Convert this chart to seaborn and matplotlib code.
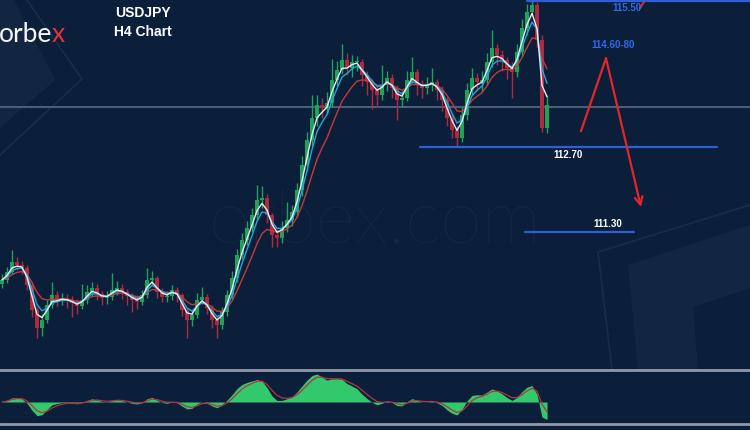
import numpy as np
import pandas as pd
import matplotlib
matplotlib.use("Agg")
import matplotlib.pyplot as plt
import seaborn as sns
from matplotlib.patches import Polygon

# ---------------- data (USDJPY H4) ----------------
first_open = 110.45
close = [110.51, 110.64, 110.80, 110.76, 110.71, 110.43, 110.01, 109.72, 109.85, 110.10,
         110.26, 110.18, 110.21, 110.18, 110.13, 110.08, 110.18, 110.31, 110.38, 110.28,
         110.21, 110.23, 110.34, 110.38, 110.31, 110.24, 110.18, 110.15, 110.26, 110.51,
         110.54, 110.31, 110.23, 110.24, 110.34, 110.26, 110.01, 109.85, 109.93, 110.18,
         110.23, 110.05, 109.85, 109.77, 109.98, 110.26, 110.54, 110.92, 111.17, 111.36,
         111.58, 111.83, 111.86, 111.58, 111.25, 111.20, 111.36, 111.50, 111.63, 111.99,
         112.40, 112.81, 113.18, 113.39, 113.34, 113.42, 113.80, 113.97, 114.13, 114.00,
         114.10, 114.10, 113.88, 113.77, 113.64, 113.56, 113.72, 113.84, 113.67, 113.47,
         113.51, 113.80, 113.93, 113.72, 113.67, 113.72, 113.77, 113.64, 113.47, 113.18,
         112.98, 112.85, 113.23, 113.64, 113.84, 113.77, 113.80, 114.10, 114.33, 114.21,
         114.13, 114.00, 113.93, 114.26, 114.66, 114.92, 115.04, 114.46, 113.01, 113.39]
high = [110.60, 110.72, 111.00, 110.88, 110.82, 110.75, 110.48, 110.06, 109.95, 110.18,
        110.48, 110.32, 110.30, 110.28, 110.25, 110.20, 110.45, 110.42, 110.48, 110.44,
        110.33, 110.32, 110.62, 110.50, 110.45, 110.36, 110.30, 110.26, 110.35, 110.70,
        110.66, 110.58, 110.38, 110.33, 110.42, 110.40, 110.30, 110.05, 110.02, 110.30,
        110.40, 110.28, 110.10, 109.92, 110.06, 110.35, 110.65, 111.02, 111.28, 111.48,
        111.70, 112.08, 112.05, 111.92, 111.62, 111.35, 111.48, 111.80, 111.75, 112.10,
        112.55, 112.95, 113.55, 113.55, 113.50, 113.60, 114.15, 114.12, 114.40, 114.25,
        114.22, 114.20, 114.15, 113.95, 113.82, 113.70, 114.05, 113.95, 113.90, 113.72,
        113.62, 113.95, 114.18, 113.98, 113.80, 113.85, 114.00, 113.82, 113.70, 113.52,
        113.25, 113.05, 113.35, 113.75, 114.00, 113.92, 113.95, 114.25, 114.62, 114.40,
        114.30, 114.18, 114.10, 114.40, 114.80, 115.05, 115.12, 115.08, 114.55, 113.55]
low = [110.38, 110.46, 110.60, 110.68, 110.60, 110.35, 109.90, 109.55, 109.58, 109.80,
       110.05, 110.08, 110.10, 110.05, 109.90, 109.95, 110.03, 110.12, 110.25, 110.18,
       110.10, 110.12, 110.18, 110.27, 110.20, 110.10, 109.98, 110.03, 110.10, 110.22,
       110.42, 110.22, 110.15, 110.14, 110.18, 110.15, 109.92, 109.55, 109.75, 109.88,
       110.12, 109.95, 109.72, 109.55, 109.70, 109.92, 110.20, 110.48, 110.85, 111.08,
       111.30, 111.52, 111.70, 111.45, 111.05, 111.05, 111.12, 111.30, 111.40, 111.55,
       111.90, 112.30, 112.70, 113.05, 113.18, 113.25, 113.35, 113.70, 113.90, 113.88,
       113.85, 113.95, 113.70, 113.55, 113.33, 113.35, 113.48, 113.62, 113.50, 113.15,
       113.35, 113.45, 113.75, 113.55, 113.50, 113.58, 113.62, 113.48, 113.30, 113.05,
       112.85, 112.70, 112.78, 113.15, 113.55, 113.62, 113.60, 113.72, 114.02, 114.05,
       113.95, 113.82, 113.50, 113.85, 114.18, 114.55, 114.85, 114.35, 112.95, 112.93]

hline_price = 113.36
level_prices = [115.10, 112.70, 111.30]
level_spans = [(105.0, 149.6), (83.6, 143.0), (104.6, 126.4)]
level_labels = ["115.50", "112.70", "111.30"]
target_label = "114.60-80"
arrow_t = [115.8, 120.8, 127.8]
arrow_p = [112.96, 114.16, 111.71]

# ---------------- derived series ----------------
df = pd.DataFrame({"t": np.arange(len(close)), "close": close, "high": high, "low": low})
df["open"] = df["close"].shift(1).fillna(first_open)
df["ma_fast"] = df["close"].ewm(span=2.5, adjust=False).mean()
df["ma_mid"] = df["close"].ewm(span=4, adjust=False).mean()
df["ma_slow"] = df["close"].ewm(span=8, adjust=False).mean()
macd = df["close"].ewm(span=3, adjust=False).mean() - df["close"].ewm(span=8, adjust=False).mean()
df["macd"] = macd
df["signal"] = macd.ewm(span=3, adjust=False).mean()

BG = "#0b1f3b"
sns.set_theme(style="dark")
plt.rcParams["font.family"] = ["Liberation Sans", "DejaVu Sans"]

fig = plt.figure(figsize=(7.5, 4.3), dpi=100)
fig.patch.set_facecolor(BG)

# background / decoration axes in pixel coordinates
bg = fig.add_axes([0, 0, 1, 1])
bg.set_xlim(0, 750)
bg.set_ylim(430, 0)
bg.axis("off")
bg.set_facecolor(BG)
bg.add_patch(Polygon([(0, 0), (14, 0), (55, 80), (0, 128)], closed=True,
                     facecolor="white", alpha=0.03, edgecolor="none"))
bg.plot([27, 82, 0], [0, 79, 155], color="white", alpha=0.07, lw=1)
bg.plot([750, 598, 612], [205, 252, 370], color="white", alpha=0.06, lw=1.2)
bg.add_patch(Polygon([(750, 225), (628, 265), (638, 370), (698, 370), (693, 307), (750, 288)],
                     closed=True, facecolor="white", alpha=0.035, edgecolor="none"))
bg.text(375, 222, "orbex.com", ha="center", va="center", fontsize=54, color="white",
        alpha=0.05, family=["Lato", "DejaVu Sans"], fontweight="light")
bg.text(52, 42, "orbe", ha="right", va="baseline", fontsize=19, color="#f4f6fa",
        family=["Lato", "DejaVu Sans"], fontweight="normal")
bg.text(52, 42, "x", ha="left", va="baseline", fontsize=19, color="#e8303a",
        family=["Lato", "DejaVu Sans"], fontweight="normal")
bg.text(143, 13, "USDJPY", ha="center", va="center", fontsize=10, color="white", fontweight="bold")
bg.text(143, 32, "H4 Chart", ha="center", va="center", fontsize=10, color="white", fontweight="bold")
bg.axhline(370, color="#8f99aa", lw=2)
bg.axhline(424, color="#8f99aa", lw=2)
bg.plot([640, 646], [8, -1], color="#e3262b", lw=1.6)

# main price axes
ax = fig.add_axes([0, 1 - 368 / 430, 1, 368 / 430])
ax.set_facecolor("none")

ax.axhline(hline_price, color="#4d5d76", lw=1.5, zorder=1)

up = df["close"] >= df["open"]
green, red = "#1fa35a", "#b02a3e"
cols = np.where(up, green, red)
ax.vlines(df["t"], df["low"], df["high"], colors=cols, lw=1.0, zorder=2)
body = (df["close"] - df["open"]).where(lambda s: s.abs() > 0.02, 0.02)
ax.bar(df["t"], body, bottom=df["open"], width=0.75, color=cols, linewidth=0, zorder=2)

sns.lineplot(data=df, x="t", y="ma_slow", ax=ax, color="#c23a3a", lw=1.0, zorder=3)
sns.lineplot(data=df, x="t", y="ma_mid", ax=ax, color="#22a9d6", lw=1.0, zorder=4)
sns.lineplot(data=df, x="t", y="ma_fast", ax=ax, color="#e6edf5", lw=1.0, zorder=5)
ax.set_xlim(-0.4, 149.6)
ax.set_ylim(109.06, 115.12)
ax.axis("off")

for p, (a, b) in zip(level_prices, level_spans):
    ax.plot([a, b], [p, p], color="#2e5fd6", lw=1.6, zorder=6, clip_on=False)
ax.text(125.0, 114.99, level_labels[0], color="#2f6ae8", fontsize=7, fontweight="bold",
        ha="center", va="center")
ax.text(122.2, 114.38, target_label, color="#2f6ae8", fontsize=7, fontweight="bold",
        ha="center", va="center")
ax.text(113.2, 112.57, level_labels[1], color="white", fontsize=7, fontweight="bold",
        ha="center", va="center")
ax.text(121.2, 111.43, level_labels[2], color="white", fontsize=7, fontweight="bold",
        ha="center", va="center")

ax.plot(arrow_t[:2], arrow_p[:2], color="#e3262b", lw=1.6, zorder=7)
ax.annotate("", xy=(arrow_t[2], arrow_p[2]), xytext=(arrow_t[1], arrow_p[1]),
            arrowprops=dict(arrowstyle="->", color="#e3262b", lw=1.6, mutation_scale=14,
                            shrinkA=0, shrinkB=0), zorder=7)

# oscillator axes
ox = fig.add_axes([0, 1 - 424 / 430, 1, 54 / 430])
ox.set_facecolor("none")
m = df["macd"].iloc[:105].abs().max()
ox.fill_between(df["t"], 0, df["macd"], color="#31c96c", linewidth=0)
sns.lineplot(data=df, x="t", y="signal", ax=ox, color="#b8333f", lw=0.9)
ox.set_xlim(-0.4, 149.6)
ox.set_ylim(-m * 22 / 28, m * 32 / 28)
ox.axis("off")

fig.savefig("out.png", dpi=100, facecolor=BG)
